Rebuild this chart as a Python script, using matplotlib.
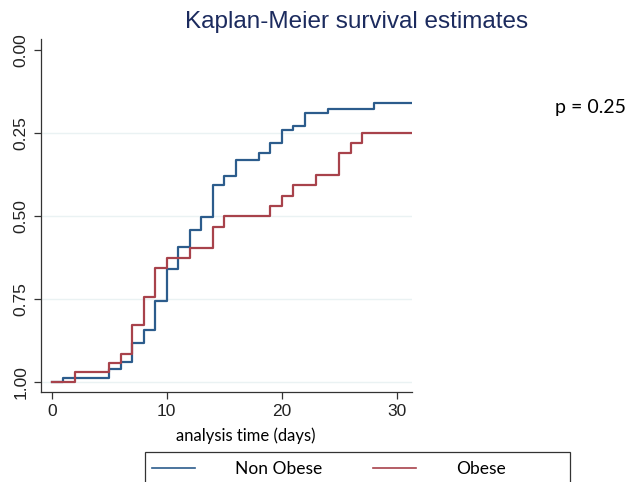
import matplotlib
matplotlib.use("Agg")
import matplotlib.pyplot as plt
from matplotlib.lines import Line2D
from matplotlib.patches import Rectangle

# Kaplan-Meier step data
times_non_obese = [0, 1, 5, 6, 7, 8, 9, 10, 11, 12, 13, 14, 15, 16, 18, 19, 20, 21, 22, 24, 28]
surv_non_obese = [1.0, 0.988, 0.961, 0.941, 0.884, 0.844, 0.756, 0.659, 0.593, 0.543, 0.503,
                  0.407, 0.379, 0.332, 0.310, 0.279, 0.241, 0.228, 0.191, 0.179, 0.161]

times_obese = [0, 2, 5, 6, 7, 8, 9, 10, 12, 14, 15, 19, 20, 21, 23, 25, 26, 27]
surv_obese = [1.0, 0.971, 0.944, 0.916, 0.829, 0.744, 0.658, 0.628, 0.596, 0.533, 0.500,
              0.471, 0.440, 0.407, 0.377, 0.312, 0.281, 0.249]

followup_end = 31.3
group_labels = ["Non Obese", "Obese"]
x_ticks = [0, 10, 20, 30]
y_ticks = [0.00, 0.25, 0.50, 0.75, 1.00]
p_value_text = "p = 0.25"

BLUE = "#2c5c8c"
RED = "#a8424b"
HUMANIST = ["Lato", "DejaVu Sans"]
ARIAL = ["Liberation Sans", "DejaVu Sans"]


def extend(times, surv):
    return times + [followup_end], surv + [surv[-1]]


def main():
    fig = plt.figure(figsize=(6.27, 4.82), dpi=100)
    ax = fig.add_axes([0.0654, 0.1874, 0.5912, 0.7317])

    for y in y_ticks[1:]:
        ax.axhline(y, color="#eaf2f3", lw=1.0, zorder=0)

    t, s = extend(times_non_obese, surv_non_obese)
    ax.step(t, s, where="post", color=BLUE, lw=1.6)
    t, s = extend(times_obese, surv_obese)
    ax.step(t, s, where="post", color=RED, lw=1.6)

    ax.set_xlim(-0.93, followup_end)
    ax.set_ylim(1.030, -0.033)
    ax.set_xticks(x_ticks)
    ax.set_yticks(y_ticks)
    ax.set_yticklabels([f"{v:.2f}" for v in y_ticks], rotation=90, va="center",
                       family=ARIAL, fontsize=12.5, color="#222222")
    ax.set_xticklabels([str(v) for v in x_ticks], family=ARIAL, fontsize=12.5,
                       color="#222222")
    ax.tick_params(axis="both", length=5, width=0.9, color="#333333", pad=4)

    for side in ["top", "right"]:
        ax.spines[side].set_visible(False)
    for side in ["left", "bottom"]:
        ax.spines[side].set_color("#333333")
        ax.spines[side].set_linewidth(0.9)

    fig.text(357 / 627, 1 - 22 / 482, "Kaplan-Meier survival estimates", ha="center",
             va="center", color="#1c2b5e", family=ARIAL, fontsize=17.5)
    fig.text(246 / 627, 1 - 436 / 482, "analysis time (days)", ha="center", va="center",
             family=HUMANIST, fontsize=12)
    fig.text(555 / 627, 1 - 107 / 482, p_value_text, ha="left", va="center",
             family=HUMANIST, fontsize=14)

    # legend box runs off the bottom edge like the original
    fig.patches.append(Rectangle((145 / 627, -0.05), (570 - 145) / 627, 0.05 + 1 - 452 / 482,
                                 transform=fig.transFigure, fill=False, edgecolor="#333333",
                                 lw=0.9))
    handles = [Line2D([], [], color=BLUE, lw=1.2), Line2D([], [], color=RED, lw=1.2)]
    fig.legend(handles, group_labels, loc="center left", ncol=2, frameon=False,
               bbox_to_anchor=(145 / 627, 1 - 469 / 482), prop={"family": HUMANIST, "size": 12.5},
               handlelength=2.5, handletextpad=2.3, columnspacing=2.9, borderpad=0.0,
               borderaxespad=0.4)

    fig.savefig("out.png", dpi=100)


if __name__ == '__main__':
    main()
